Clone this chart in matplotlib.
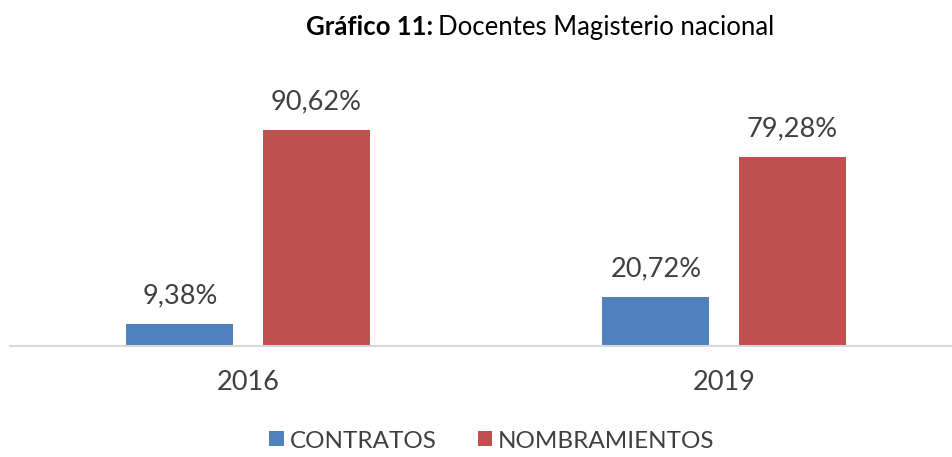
import matplotlib.pyplot as plt
import numpy as np

years = ["2016", "2019"]
contratos = [9.38, 20.72]
nombramientos = [90.62, 79.28]
series_names = ["CONTRATOS", "NOMBRAMIENTOS"]

blue = "#4F81BD"
red = "#C0504D"
txt = "#404040"

plt.rcParams['font.family'] = ['Lato', 'DejaVu Sans']

W, H = 952, 457
fig = plt.figure(figsize=(W / 100, H / 100), dpi=100)
# axes: baseline at y=346 px, 2.384 px per percent
ax = fig.add_axes([10 / W, (H - 346) / H, 952 / W, 238.4 / H])

x = np.arange(len(years))
bw = 0.225
off = 0.143
b1 = ax.bar(x - off, contratos, bw, color=blue, label=series_names[0])
b2 = ax.bar(x + off, nombramientos, bw, color=red, label=series_names[1])

for bars, vals in [(b1, contratos), (b2, nombramientos)]:
    for rect, v in zip(bars, vals):
        ax.annotate("{:.2f}%".format(v).replace(".", ","),
                    (rect.get_x() + rect.get_width() / 2, v),
                    xytext=(0, 11), textcoords="offset points",
                    ha="center", va="bottom", fontsize=19.5, color=txt)

ax.set_xlim(-0.5, 1.5)
ax.set_ylim(0, 100)
ax.set_xticks(x)
ax.set_xticklabels(years, fontsize=19.5, color=txt)
ax.tick_params(axis="x", length=0, pad=17.5)
ax.set_yticks([])
for s in ["top", "right", "left"]:
    ax.spines[s].set_visible(False)
ax.spines["bottom"].set_color("#D9D9D9")
ax.spines["bottom"].set_linewidth(1.5)

fig.text(433 / W, 1 - 27 / H, "Gráfico 11:", ha="right", va="center",
         fontsize=18.5, fontweight="bold", color="black")
fig.text(438 / W, 1 - 27 / H, "Docentes Magisterio nacional", ha="left",
         va="center", fontsize=18.5, color="black")

fig.legend(loc="center", bbox_to_anchor=(492 / W, 1 - 441 / H), ncol=2,
           frameon=False, fontsize=17.5, handlelength=0.58, handleheight=0.58,
           handletextpad=0.25, columnspacing=1.7, labelcolor=txt)

fig.savefig("out.png", dpi=100)
